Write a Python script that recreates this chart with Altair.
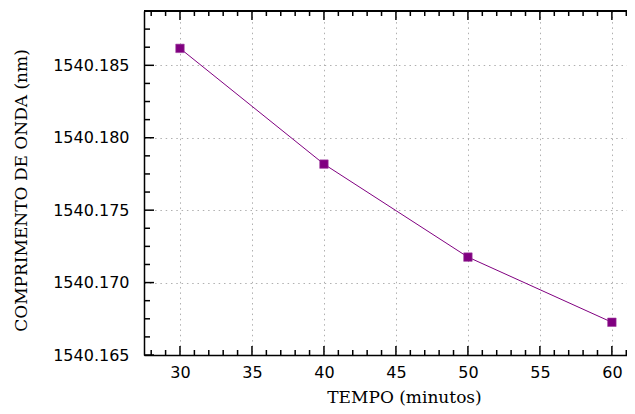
import altair as alt
import pandas as pd

# data
tempo = [30, 40, 50, 60]
comprimento = [1540.18617, 1540.17818, 1540.17176, 1540.16726]

x_major = [30, 35, 40, 45, 50, 55, 60]
x_minor = [28, 29, 31, 32, 33, 34, 36, 37, 38, 39, 41, 42, 43, 44, 46, 47, 48, 49,
           51, 52, 53, 54, 56, 57, 58, 59, 61]
y_major = [1540.165, 1540.170, 1540.175, 1540.180, 1540.185]
y_minor = [1540.16625, 1540.1675, 1540.16875, 1540.17125, 1540.1725, 1540.17375,
           1540.17625, 1540.1775, 1540.17875, 1540.18125, 1540.1825, 1540.18375,
           1540.18625, 1540.1875]

x_domain = [27.5, 61.05]
y_domain = [1540.165, 1540.18875]

W, H = 483, 344
PURPLE = "#800080"

df = pd.DataFrame({"t": tempo, "w": comprimento})
xs = alt.Scale(domain=x_domain, nice=False, zero=False)
ys = alt.Scale(domain=y_domain, nice=False, zero=False)

x_axis = alt.Axis(
    values=x_major, title="TEMPO (minutos)", format="d",
    ticks=False, domainColor="black", domainWidth=1.5,
    labelFont="DejaVu Sans", labelFontSize=16, labelColor="black", labelPadding=9,
    titleFont="DejaVu Serif", titleFontSize=17, titleFontWeight="normal", titleColor="black",
    titleX=260, titleY=47, titleBaseline="alphabetic", titleAlign="center",
    grid=True, gridDash=[1.5, 3.8], gridColor="#b0b0b0", gridWidth=1,
)
y_axis = alt.Axis(
    values=y_major, title="COMPRIMENTO DE ONDA (nm)", format=".3f",
    ticks=False, domainColor="black", domainWidth=1.5,
    labelFont="DejaVu Sans", labelFontSize=16, labelColor="black", labelPadding=15,
    titleFont="DejaVu Serif", titleFontSize=17, titleFontWeight="normal", titleColor="black",
    titleX=-118, titleY=179, titleBaseline="alphabetic", titleAlign="center", titleAngle=270,
    grid=True, gridDash=[1.5, 3.8], gridColor="#b0b0b0", gridWidth=1,
)

line = alt.Chart(df).mark_line(color=PURPLE, strokeWidth=1).encode(
    x=alt.X("t:Q", scale=xs, axis=x_axis),
    y=alt.Y("w:Q", scale=ys, axis=y_axis),
)
pts = alt.Chart(df).mark_square(size=72, color=PURPLE, opacity=1, stroke="#a040a0", strokeWidth=0.6).encode(
    x=alt.X("t:Q", scale=xs, axis=x_axis),
    y=alt.Y("w:Q", scale=ys, axis=y_axis),
)

def xticks(vals, length):
    d = pd.DataFrame({"t": vals})
    bottom = alt.Chart(d).mark_rule(color="black", strokeWidth=1.5).encode(
        x=alt.X("t:Q", scale=xs, axis=x_axis), y=alt.value(H), y2=alt.value(H - length))
    top = alt.Chart(d).mark_rule(color="black", strokeWidth=1.5).encode(
        x=alt.X("t:Q", scale=xs, axis=x_axis), y=alt.value(0), y2=alt.value(length))
    return [bottom, top]

def yticks(vals, length):
    d = pd.DataFrame({"w": vals})
    left = alt.Chart(d).mark_rule(color="black", strokeWidth=1.5).encode(
        y=alt.Y("w:Q", scale=ys, axis=y_axis), x=alt.value(0), x2=alt.value(length))
    return [left]

top_border = alt.Chart(df).mark_rule(color="black", strokeWidth=1.5).encode(
    x=alt.value(0), x2=alt.value(W), y=alt.value(0))

layers = [line, pts, top_border] + xticks(x_major, 9) + xticks(x_minor, 5) + yticks(y_major, 10) + yticks(y_minor, 6)

chart = alt.layer(*layers).properties(
    width=W, height=H,
    autosize=alt.AutoSizeParams(type="none"),
    padding={"left": 136, "top": 3, "right": 0, "bottom": 51},
    background="white",
).configure_view(stroke=None)

chart.save("out.html", embed_options={"renderer": "svg", "actions": False})
